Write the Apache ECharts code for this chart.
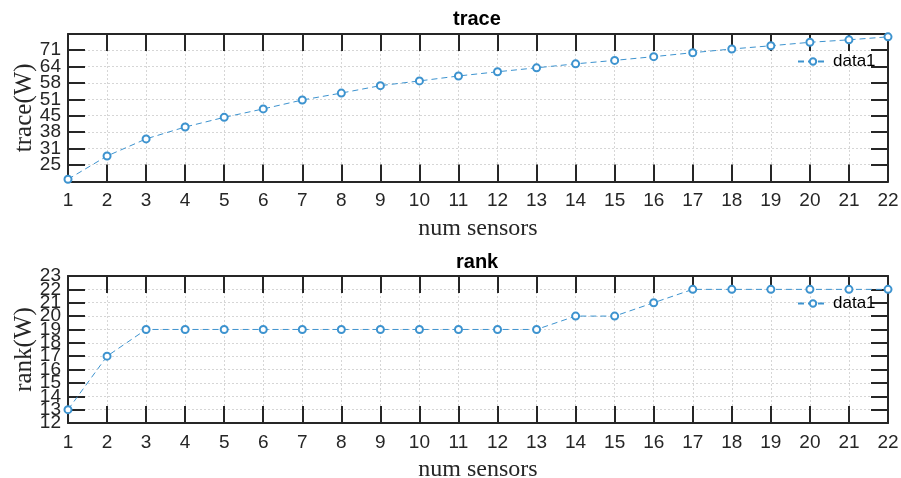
<!DOCTYPE html>
<html>
<head>
<meta charset="utf-8">
<style>
  html, body { margin: 0; padding: 0; background: #fff; }
  #main { width: 901px; height: 478px; }
</style>
<script src="https://cdn.jsdelivr.net/npm/echarts@6/dist/echarts.min.js"></script>
</head>
<body>
<div id="main"></div>
<script>
// 传感器数量
var sensors = [1, 2, 3, 4, 5, 6, 7, 8, 9, 10, 11, 12, 13, 14, 15, 16, 17, 18, 19, 20, 21, 22];
// trace(W) 数值
var traceValues = [18.8, 28.2, 35.1, 39.9, 43.8, 47.2, 50.8, 53.6, 56.6, 58.5, 60.5, 62.2,
                   63.8, 65.4, 66.8, 68.3, 69.9, 71.4, 72.7, 74.1, 75.1, 76.3];
// rank(W) 数值
var rankValues = [13, 17, 19, 19, 19, 19, 19, 19, 19, 19, 19, 19, 19, 20, 20, 21, 22, 22, 22, 22, 22, 22];
// 上图 y 轴刻度 (显示时取整)
var traceTicks = [24.7, 31.3, 37.9, 44.5, 51.1, 57.7, 64.3, 70.9];
// 下图 y 轴刻度
var rankTicks = [12, 13, 14, 15, 16, 17, 18, 19, 20, 21, 22, 23];

var dark = '#262626';
var blue = '#3d93cf';
var sansFont = '"Liberation Sans", Arial, sans-serif';
var serifFont = '"Liberation Serif", "Times New Roman", serif';

function pairs(ys) {
    return sensors.map(function (x, i) { return [x, ys[i]]; });
}
// 标签太挤, ECharts 会隐藏重叠的, 所以拆成奇偶两根轴来显示
function everyOther(arr, start) {
    return arr.filter(function (v, i) { return i % 2 === start; });
}

var tickStyle = { inside: true, length: 17, lineStyle: { color: dark, width: 2 } };
var lineStyle = { show: true, lineStyle: { color: dark, width: 2 } };
var gridLine = { show: true, lineStyle: { color: '#d6d6d6', type: [2, 2], width: 1 } };

function mainX(grid) {
    return {
        type: 'value', gridIndex: grid, position: 'bottom',
        min: 1, max: 22, interval: 1,
        axisLine: lineStyle, axisTick: tickStyle, splitLine: gridLine,
        axisLabel: { color: dark, fontSize: 19, fontFamily: sansFont, margin: 10,
                     showMinLabel: true, showMaxLabel: true },
        name: 'num sensors', nameLocation: 'middle', nameGap: 35, nameMoveOverlap: false,
        nameTextStyle: { color: dark, fontSize: 24, fontFamily: serifFont }
    };
}
function topX(grid) {
    return {
        type: 'value', gridIndex: grid, position: 'top',
        min: 1, max: 22, interval: 1,
        axisLine: lineStyle, axisTick: tickStyle,
        axisLabel: { show: false }, splitLine: { show: false }
    };
}
// 左侧主轴: 轴线、刻度、网格线、轴名
function mainY(grid, min, max, ticks, name) {
    return {
        type: 'value', gridIndex: grid, position: 'left', min: min, max: max,
        axisLine: lineStyle,
        axisTick: { inside: true, length: 17, lineStyle: { color: dark, width: 2 }, customValues: ticks },
        axisLabel: { show: false },
        splitLine: gridLine,
        name: name, nameLocation: 'middle', nameGap: 31, nameMoveOverlap: false,
        nameTextStyle: { color: dark, fontSize: 25, fontFamily: serifFont }
    };
}
// 只画标签的轴
function labelY(grid, min, max, values) {
    return {
        type: 'value', gridIndex: grid, position: 'left', offset: 0, min: min, max: max,
        axisLine: { show: false }, axisTick: { show: false, customValues: values },
        splitLine: { show: false },
        axisLabel: { color: dark, fontSize: 19, fontFamily: sansFont, margin: 7,
                     showMinLabel: true, showMaxLabel: true, customValues: values,
                     formatter: function (v) { return Math.round(v); } }
    };
}
function rightY(grid, min, max, ticks) {
    return {
        type: 'value', gridIndex: grid, position: 'right', min: min, max: max,
        axisLine: lineStyle,
        axisTick: { inside: true, length: 17, lineStyle: { color: dark, width: 2 }, customValues: ticks },
        axisLabel: { show: false }, splitLine: { show: false }
    };
}
function legendAt(top) {
    return {
        data: ['data1'], left: 792, top: top, itemWidth: 30, itemHeight: 8, itemGap: 5,
        textStyle: { color: '#000', fontSize: 17, fontFamily: sansFont }
    };
}

var echarts1 = echarts.init(document.getElementById('main'));

var option = {
    backgroundColor: '#fff',
    animation: false,
    title: [
        { text: 'trace', left: 453, top: 9, padding: 0,
          textStyle: { fontSize: 20, fontWeight: 'bold', color: '#000', fontFamily: sansFont } },
        { text: 'rank', left: 456, top: 252, padding: 0,
          textStyle: { fontSize: 20, fontWeight: 'bold', color: '#000', fontFamily: sansFont } }
    ],
    legend: [legendAt(48), legendAt(290)],
    grid: [
        { left: 68, right: 13, top: 34, height: 147.5, outerBoundsMode: 'none' },
        { left: 68, right: 13, top: 276, height: 147, outerBoundsMode: 'none' }
    ],
    xAxis: [mainX(0), topX(0), mainX(1), topX(1)],
    yAxis: [
        mainY(0, 17.9, 77.45, traceTicks, 'trace(W)'),
        rightY(0, 17.9, 77.45, traceTicks),
        mainY(1, 12, 23, rankTicks, 'rank(W)'),
        rightY(1, 12, 23, rankTicks),
        labelY(0, 17.9, 77.45, everyOther(traceTicks, 0)),
        labelY(0, 17.9, 77.45, everyOther(traceTicks, 1)),
        labelY(1, 12, 23, everyOther(rankTicks, 0)),
        labelY(1, 12, 23, everyOther(rankTicks, 1))
    ],
    series: [
        {
            name: 'data1', type: 'line', xAxisIndex: 0, yAxisIndex: 0,
            data: pairs(traceValues),
            symbol: 'emptyCircle', symbolSize: 7,
            lineStyle: { color: blue, width: 1, type: [6, 4] },
            itemStyle: { color: blue, borderWidth: 1 }
        },
        {
            name: 'data1', type: 'line', xAxisIndex: 2, yAxisIndex: 2,
            data: pairs(rankValues),
            symbol: 'emptyCircle', symbolSize: 7,
            lineStyle: { color: blue, width: 1, type: [6, 4] },
            itemStyle: { color: blue, borderWidth: 1 }
        }
    ]
};

echarts1.setOption(option);
</script>
</body>
</html>
